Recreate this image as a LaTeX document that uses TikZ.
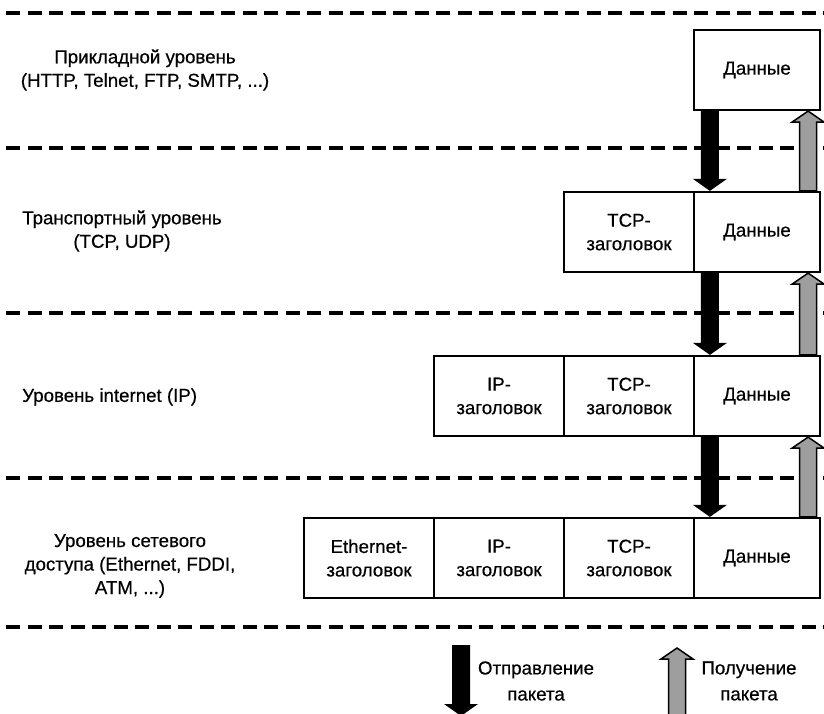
\documentclass[tikz,border=0pt]{standalone}
\usepackage{fontspec}
\setmainfont{Liberation Sans}[UprightFeatures={FakeBold=0.5}]
\usetikzlibrary{calc}

% solid black arrow pointing down: #1 = top of shaft, #2 = tip
\newcommand\pktdown[2]{%
  \fill[sendfill] ($(#1)+(-9,0)$) -- ($(#1)+(9,0)$) -- ($(#2)+(9,-12)$)
    -- ($(#2)+(17,-12)$) -- (#2) -- ($(#2)+(-17,-12)$) -- ($(#2)+(-9,-12)$) -- cycle;}
% outlined grey arrow pointing up: #1 = foot of shaft, #2 = tip
\newcommand\pktup[2]{%
  \filldraw[recvfill] ($(#1)+(-8.5,0)$) -- ($(#1)+(8.5,0)$) -- ($(#2)+(8.5,11)$)
    -- ($(#2)+(16,11)$) -- (#2) -- ($(#2)+(-16,11)$) -- ($(#2)+(-8.5,11)$) -- cycle;}

\begin{document}
\begin{tikzpicture}[x=1pt,y=-1pt,
  txt/.style={font=\fontsize{18.7}{23.5}\selectfont, align=center, inner sep=0pt},
  cell/.style={txt, draw, line width=2.2pt, minimum height=80pt, fill=white},
  hdr/.style={cell, minimum width=130pt},
  data/.style={cell, minimum width=126pt},
  level/.style={draw, line width=3.2pt, dash pattern=on 14pt off 7.5pt},
  sendfill/.style={fill=black},
  recvfill/.style={fill=black!38, draw=black, line width=1.5pt, line join=miter}]

\useasboundingbox (0,0) rectangle (824,714);

% layer separators
\foreach \yy in {13,148,313,478,627}
  \draw[level] (6,\yy) -- (824,\yy);

% layer names
\node[txt] (app) at (145,70) {Прикладной уровень\\(HTTP, Telnet, FTP, SMTP, ...)};
\node[txt] (trn) at (122,231) {Транспортный уровень\\(TCP, UDP)};
\node[txt, anchor=west] (inet) at (22,397) {Уровень internet (IP)};
\node[txt] (net) at (130,566) {Уровень сетевого\\доступа (Ethernet, FDDI,\\ATM, ...)};

% application layer
\node[data] (d1) at (757,70) {Данные};

% transport layer
\node[data] (d2) at (757,232) {Данные};
\node[hdr]  (t2) at (629,232) {TCP-\\заголовок};

% internet layer
\node[data] (d3) at (757,396) {Данные};
\node[hdr]  (t3) at (629,396) {TCP-\\заголовок};
\node[hdr]  (i3) at (499,396) {IP-\\заголовок};

% network access layer
\node[data] (d4) at (757,558) {Данные};
\node[hdr]  (t4) at (629,558) {TCP-\\заголовок};
\node[hdr]  (i4) at (499,558) {IP-\\заголовок};
\node[hdr]  (e4) at (369,558) {Ethernet-\\заголовок};

% sending (down) and receiving (up) arrows between layers
\foreach \a/\b in {d1/d2,d2/d3,d3/d4}{
  \coordinate (s-\a) at ($(\a.south west)+(17,0)$);
  \coordinate (s-\b) at ($(\b.north west)+(17,0)$);
  \pktdown{s-\a}{s-\b}
  \coordinate (r-\a) at ($(\a.south east)+(-13,0)$);
  \coordinate (r-\b) at ($(\b.north east)+(-13,0)$);
  \pktup{r-\b}{r-\a}
}

% legend
\coordinate (ls-top) at (461,645);
\coordinate (ls-tip) at (461,716);
\pktdown{ls-top}{ls-tip}
\node[txt, font=\fontsize{18.7}{26}\selectfont] (lsend) at (536,681) {Отправление\\пакета};

\coordinate (lr-foot) at (677,716);
\coordinate (lr-tip) at (677,648);
\pktup{lr-foot}{lr-tip}
\node[txt, font=\fontsize{18.7}{26}\selectfont] (lrecv) at (749,681) {Получение\\пакета};

\end{tikzpicture}
\end{document}
